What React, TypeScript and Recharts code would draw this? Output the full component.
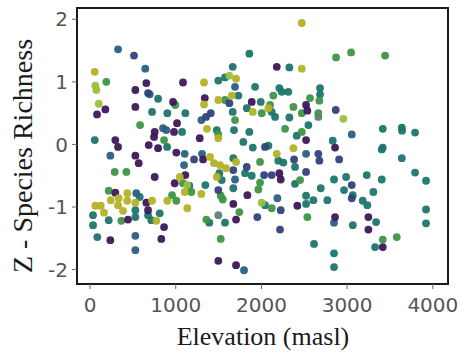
import { ReferenceArea, Scatter, ScatterChart, XAxis, YAxis } from "recharts";

// elevation (masl), z-scored species richness — grouped by point colour
const purplePts = [
  [657, 0.98], [529, 0.87], [1085, 0.99], [82, 0.48], [179, 0.56], [529, 0.6], [969, 0.68],
  [1015, 0.34], [980, 0.2], [755, 0.2], [747, 0.12], [685, -0.01], [794, -0.06], [295, 0.07],
  [327, -0.04], [1339, 0.74], [1280, 0.1], [2179, 1.24], [1887, 0.68], [2521, 0.63], [2536, 0.54],
  [2521, 0.07], [2859, -0.05], [529, -0.18], [568, -0.3], [1007, -0.13], [1319, -0.24],
  [755, -0.52], [1112, -0.49], [988, -0.62], [295, -0.77], [657, -0.93], [677, -1.05],
  [443, -1.2], [864, -1.32], [237, -1.53], [832, -1.51], [2209, -0.46], [2225, -0.56],
  [1836, -0.81], [1672, -0.95], [1704, -1.2], [2419, -0.98], [1497, -1.86], [1704, -1.93],
  [2859, -1.16], [3248, -1.16], [3248, -1.36], [3416, -1.64],
];
const bluePts = [
  [513, 1.42], [677, 0.82], [1626, 0.66], [1409, 0.5], [1354, 0.44], [2042, -0.04], [2867, 0.55],
  [1214, -0.24], [2664, -0.15], [2676, -0.26], [1672, -0.41], [1829, -0.36], [2381, -0.24],
  [2120, -0.49], [2031, -0.49], [2521, -0.44], [1497, -0.73], [2225, -1.05], [1952, -1.16],
  [2217, -1.36], [2907, -0.24], [3054, -0.65], [3054, -0.86],
];
const tealBluePts = [
  [327, 1.52], [645, 1.21], [697, 0.8], [852, 0.26], [890, 0.23], [1299, 0.39], [1692, 0.92],
  [3054, 0.16], [237, -0.18], [1105, -0.15], [1307, -0.15], [1097, -0.33], [540, -0.78],
  [529, -1.46], [529, -1.69], [2521, -0.15], [1692, -0.56], [2186, -0.86], [1797, -2.01],
  [2847, -1.25],
];
const tealPts = [
  [794, 0.73], [724, 0.52], [902, 0.5], [1112, 0.5], [1074, 0.2], [55, 0.07], [899, -0.04],
  [1859, 1.45], [2326, 1.23], [1665, 1.24], [1497, 1.02], [1575, 1.07], [1926, 0.92],
  [2209, 0.9], [2237, 0.84], [2314, 0.84], [2684, 0.9], [2684, 0.8], [1731, 0.78], [1992, 0.68],
  [1829, 0.58], [2120, 0.52], [2159, 0.44], [1665, 0.52], [2326, 0.43], [2548, 0.31],
  [1479, 0.23], [1680, 0.23], [1859, 0.2], [2412, 0.14], [1789, 0.04], [2081, -0.02],
  [1899, -0.05], [3416, 0.25], [3638, 0.27], [3641, 0.22], [3793, 0.19], [2832, 0.06],
  [3416, -0.05], [1159, -0.66], [1346, -0.65], [580, -0.84], [529, -1.05], [677, -1.13],
  [813, -1.1], [35, -1.13], [35, -1.29], [218, -1.21], [529, -1.16], [715, -1.21], [85, -1.48],
  [1672, -0.22], [1809, -0.46], [1887, -0.5], [2197, -0.26], [2256, -0.29], [2392, -0.36],
  [2392, -0.63], [1509, -0.46], [1537, -0.57], [1672, -0.7], [1575, -1.25], [1392, -1.25],
  [2042, -0.97], [2521, -0.95], [2521, -0.82], [2606, -0.89], [2692, -0.7], [2614, -1.59],
  [3404, -0.08], [3638, -0.22], [3793, -0.45], [3921, -0.58], [3229, -0.49], [3404, -0.56],
  [2847, -0.56], [2988, -0.52], [2964, -0.73], [3066, -0.81], [3306, -0.76], [3182, -0.9],
  [3236, -0.97], [2769, -0.89], [3066, -1.29], [3338, -1.24], [3921, -1.04], [3921, -1.26],
  [3326, -1.64], [2847, -1.74], [2847, -1.96],
];
const greenPts = [
  [190, 1.0], [995, 0.63], [584, 0.31], [864, 0.07], [2139, 0.78], [2567, 0.74], [2676, 0.7],
  [1575, 0.71], [2101, 0.63], [2004, 0.5], [1692, 0.39], [2373, 0.6], [2471, 0.5], [2664, 0.5],
  [2276, 0.25], [1497, 0.16], [2471, 0.2], [2871, 1.39], [3046, 1.47], [3443, 1.42],
  [288, -0.44], [424, -0.44], [1085, -0.62], [1182, -0.76], [218, -0.74], [1007, -0.9],
  [957, -0.81], [365, -1.22], [1357, -1.2], [1984, -0.28], [2451, -0.57], [1984, -0.61],
  [1964, -0.72], [1525, -0.82], [1549, -0.88], [1742, -1.08], [2120, -1.02], [2536, -1.16],
  [1525, -1.51], [3579, -1.48], [3416, -1.52],
];
const olivePts = [
  [55, 1.16], [1330, 0.99], [1330, 0.64], [1365, 0.25], [2471, 1.94], [2471, 1.21], [1704, 1.05],
  [1497, 0.71], [1654, 0.78], [2081, 0.58], [1899, 0.52], [1497, 0.1], [2373, -0.06],
  [1047, -0.52], [1105, -0.76], [1299, -0.79], [435, -0.78], [242, -0.89], [335, -0.86],
  [435, -0.9], [529, -0.93], [724, -0.9], [902, -0.9], [62, -0.98], [125, -0.98], [327, -0.97],
  [163, -1.09], [385, -1.06], [774, -1.22], [1135, -1.02], [2179, -0.15], [1400, -0.2],
  [1447, -0.3], [1517, -0.33], [1587, -0.38], [1704, -0.28], [1479, -0.52],
];
const limePts = [
  [62, 0.94], [74, 0.87], [102, 0.65], [1626, 1.1], [2956, 0.41], [1135, -0.65], [2004, -0.93],
];
const mutedPts = [[2664, 0.44], [1497, -1.13]];

const xTicks = [0, 1000, 2000, 3000, 4000];
const yTicks = [-2, -1, 0, 1, 2];
const X_DOMAIN = [-152, 4177];
const Y_DOMAIN = [-2.23, 2.18];

const groups = [
  { name: "teal", pts: tealPts, color: "#1e756b" },
  { name: "tealBlue", pts: tealBluePts, color: "#2a5f84" },
  { name: "green", pts: greenPts, color: "#3d9545" },
  { name: "purple", pts: purplePts, color: "#3c1858" },
  { name: "blue", pts: bluePts, color: "#32417a" },
  { name: "olive", pts: olivePts, color: "#b3b226" },
  { name: "lime", pts: limePts, color: "#9bbf3f" },
  { name: "muted", pts: mutedPts, color: "#5e8070" },
];

const tickStyle = { fill: "#555", fontSize: 20, fontFamily: "DejaVu Sans" };

const dot = (color: string) => (props: any) => (
  <circle cx={props.cx} cy={props.cy} r={3.9} fill={color} fillOpacity={0.95} />
);

export default function App() {
  return (
    <div style={{ position: "absolute", left: 0, top: 0, width: 462, height: 354, background: "#fff" }}>
      <ScatterChart width={462} height={354} margin={{ top: 8, right: 14, bottom: 0, left: 0 }}>
        <XAxis
          type="number"
          dataKey="x"
          domain={X_DOMAIN}
          ticks={xTicks}
          allowDataOverflow
          height={70}
          tickSize={5}
          tickMargin={9}
          axisLine={false}
          tickLine={{ stroke: "#666" }}
          tick={tickStyle}
          label={{
            content: () => (
              <text x={263} y={345} textAnchor="middle" fontFamily="Liberation Serif" fontSize={26} fill="#1a1a1a">
                Elevation (masl)
              </text>
            ),
          }}
        />
        <YAxis
          type="number"
          dataKey="y"
          domain={Y_DOMAIN}
          ticks={yTicks}
          allowDataOverflow
          width={77}
          tickSize={5}
          tickMargin={4}
          axisLine={false}
          tickLine={{ stroke: "#666" }}
          tick={tickStyle}
          label={{
            content: () => (
              <text
                x={32}
                y={156}
                transform="rotate(-90, 32, 156)"
                textAnchor="middle"
                fontFamily="Liberation Serif"
                fontSize={28}
                fill="#1a1a1a"
              >
                Z - Species Richness
              </text>
            ),
          }}
        />
        {groups.map((g) => (
          <Scatter
            key={g.name}
            name={g.name}
            data={g.pts.map(([x, y]) => ({ x, y }))}
            fill={g.color}
            shape={dot(g.color)}
            isAnimationActive={false}
          />
        ))}
        <ReferenceArea
          x1={X_DOMAIN[0]}
          x2={X_DOMAIN[1]}
          y1={Y_DOMAIN[0]}
          y2={Y_DOMAIN[1]}
          fill="none"
          stroke="#1a1a1a"
          strokeWidth={2}
          ifOverflow="visible"
        />
      </ScatterChart>
    </div>
  );
}
